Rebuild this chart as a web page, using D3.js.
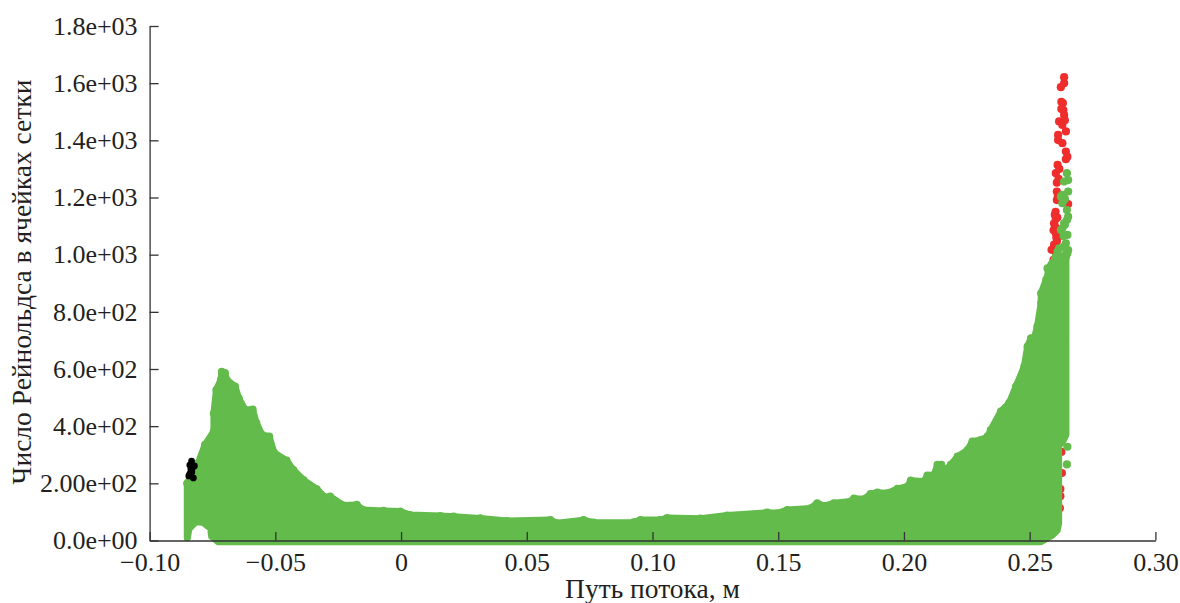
<!DOCTYPE html>
<html><head><meta charset="utf-8">
<script src="https://cdn.jsdelivr.net/npm/d3@7/dist/d3.min.js"></script>
<style>html,body{margin:0;padding:0;background:#fff}svg{display:block}
text{font-family:"Liberation Serif",serif;fill:#231f20}</style></head>
<body><svg id="c" width="1180" height="603"></svg>
<script>
const xTicks=[-0.10,-0.05,0,0.05,0.10,0.15,0.20,0.25,0.30];
const xTickLabels=["−0.10","−0.05","0","0.05","0.10","0.15","0.20","0.25","0.30"];
const yTicks=[0,200,400,600,800,1000,1200,1400,1600,1800];
const yTickLabels=["0.0e+00","2.00e+02","4.0e+02","6.0e+02","8.0e+02","1.0e+03","1.2e+03","1.4e+03","1.6e+03","1.8e+03"];
const xTitle="Путь потока, м";
const yTitle="Число Рейнольдса в ячейках сетки";
// green cloud: dot centres along its upper edge [path, Re]
const greenUpper=[[-.0851,200],[-.0807,271],[-.0780,335],[-.0745,382],[-.0745,445],[-.0735,527],[-.0717,562],[-.0713,591],[-.0700,586],[-.0693,562],[-.066,539],[-.0645,498],[-.062,457],[-.0590,459],[-.0575,411],[-.0553,370],[-.0524,364],[-.0505,308],[-.0455,280],[-.0428,247],[-.0388,212],[-.0335,180],[-.0302,151],[-.0282,154],[-.0229,123],[-.0176,125],[-.015,107],[-.007,104],[-.0003,102],[.0036,90],[.0156,86],[.0209,84],[.0315,78],[.0421,69],[.0594,72],[.062,61],[.0726,72],[.0766,63],[.0925,64],[.0952,72],[.1031,72],[.1058,79],[.119,77],[.1297,88],[.1456,98],[.1496,96],[.1536,107],[.1629,113],[.1655,131],[.1682,121],[.1721,131],[.1788,137],[.1801,147],[.1841,145],[.1867,163],[.1894,168],[.1934,166],[.1974,181],[.2014,189],[.2027,210],[.208,207],[.2093,228],[.212,230],[.2133,265],[.2149,265],[.2162,244],[.2186,265],[.2213,294],[.2253,317],[.2272,347],[.2305,352],[.2332,364],[.2345,387],[.2385,452],[.2418,481],[.2445,539],[.2478,609],[.2491,679],[.2505,708],[.2518,708],[.2530,749],[.2545,831],[.2545,865],[.2565,912],[.2575,941],[.2585,964],[.2600,985],[.2625,990],[.2645,1005]];
// green cloud: dot centres down its right side and back along the bottom
const greenLower=[[.2645,370],[.2634,350],[.2616,330],[.2616,60],[.2610,35],[.2590,18],[.2545,-5],[-.0728,-5],[-.0754,14],[-.0758,42],[-.0788,63],[-.0816,65],[-.0843,40],[-.0849,9],[-.0851,9]];
const greenStray=[[.2648,1285],[.2637,1256],[.2653,1221],[.2630,1209],[.2630,1180],[.2648,1156],[.2648,1121],[.2630,1092],[.2650,1069],[.2644,1040],[.2611,1011],[.2644,993],[.2577,952],[.2650,1005],[.2650,328],[.2648,266],[.2640,1195],[.2640,1105],[.2635,1065],[.2653,1261],[.2624,1203],[.2637,1192],[.2653,1133],[.2637,1110],[.2624,1086],[.2637,1028],[.2617,1022],[.2653,1016],[.2604,993],[.2624,982],[.2591,970],[.2571,952]];
const redPoints=[[.2637,1621],[.2624,1586],[.2637,1600],[.2626,1535],[.2634,1506],[.2637,1489],[.2632,1530],[.2617,1466],[.2630,1454],[.2644,1431],[.2613,1419],[.2613,1401],[.2630,1390],[.2644,1361],[.2650,1343],[.2644,1334],[.2611,1314],[.2604,1285],[.2608,1252],[.2608,1221],[.2608,1191],[.2653,1177],[.2600,1139],[.2597,1110],[.2604,1075],[.2608,1046],[.2587,1017],[.2595,982],[.2613,923],[.2604,1125],[.2610,1090],[.2612,1060],[.2595,1085],[.2626,310],[.2628,236],[.2622,180],[.2622,155],[.2620,113],[.2603,1150],[.2610,1130],[.2600,1100],[.2606,1060],[.2597,1035],[.2605,1000],[.2600,970],[.2618,1300],[.2615,1265],[.2612,1205],[.2640,1470],[.2626,1510]];
const blackPoints=[[-.0833,278],[-.0840,264],[-.0828,257],[-.0832,240],[-.0840,233],[-.0822,261],[-.0844,226],[-.0826,219],[-.0836,250]];

const GREEN="#62bb4b",RED="#ee2d2c",INK="#333";
const svg=d3.select("#c");
const x=d3.scaleLinear().domain([-0.10,0.30]).range([149.6,1155.4]);
const y=d3.scaleLinear().domain([0,1800]).range([540.5,26]);
const R=3.3,DOT=4.1;
const px=d=>x(d[0]),py=d=>y(d[1]);
const dots=(data,fill,r)=>svg.append("g").selectAll("circle").data(data).join("circle")
  .attr("cx",px).attr("cy",py).attr("r",r).attr("fill",fill);

dots(redPoints,RED,DOT);
const outline=greenUpper.concat(greenLower);
svg.append("path").attr("d",d3.line().x(px).y(py)(outline)+"Z")
  .attr("fill",GREEN).attr("stroke",GREEN).attr("stroke-width",2*R).attr("stroke-linejoin","round");
dots(greenUpper,GREEN,3.9);
dots(greenStray,GREEN,DOT);
dots(blackPoints,"#000",3.4);

const gx=svg.append("g").attr("transform","translate(0,540.5)")
 .call(d3.axisBottom(x).tickValues(xTicks).tickSizeInner(-8.5).tickSizeOuter(0).tickPadding(12)
 .tickFormat((d,i)=>xTickLabels[i]));
const gy=svg.append("g").attr("transform","translate(149.6,0)")
 .call(d3.axisLeft(y).tickValues(yTicks).tickSizeInner(-9).tickSizeOuter(0).tickPadding(12)
 .tickFormat((d,i)=>yTickLabels[i]));
[gx,gy].forEach(g=>{
 g.selectAll("path,line").attr("stroke",INK).attr("stroke-width",1.3);
 g.selectAll("text").style("font-size","26px").style("font-family",'"Liberation Serif",serif').attr("fill","#231f20");
});
svg.append("text").attr("x",652.5).attr("y",597.5).attr("text-anchor","middle").style("font-size","27.5px").text(xTitle);
svg.append("text").attr("transform","translate(31,282) rotate(-90)").attr("text-anchor","middle").style("font-size","27.5px").text(yTitle);
</script></body></html>
